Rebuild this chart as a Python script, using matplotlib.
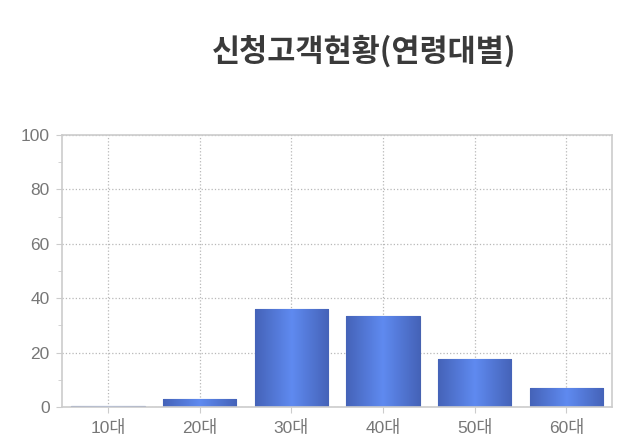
import matplotlib
matplotlib.use("Agg")
import matplotlib.pyplot as plt
import numpy as np
from matplotlib.ticker import MultipleLocator

plt.rcParams['font.family'] = ['Liberation Sans', 'Noto Sans CJK KR', 'DejaVu Sans']

title = "신청고객현황(연령대별)"
categories = ["10대", "20대", "30대", "40대", "50대", "60대"]
values = [0.5, 3, 36, 33.5, 17.6, 7]

fig = plt.figure(figsize=(6.22, 4.44), dpi=100)
ax = fig.add_axes([0.0997, 0.0833, 0.8845, 0.6125])

x = np.arange(len(categories))
bars = ax.bar(x, values, width=0.8, color='#5275d6', edgecolor='#4662b0', linewidth=0.8, zorder=2)

# horizontal gradient on each bar: dark edges, light middle
grad = np.abs(np.linspace(-1, 1, 256))
grad = np.vstack([grad, grad])
cmap = matplotlib.colors.LinearSegmentedColormap.from_list("bar", ["#5f8af0", "#4563b8"])
for b in bars:
    x0, w, h = b.get_x(), b.get_width(), b.get_height()
    im = ax.imshow(grad, cmap=cmap, aspect='auto', extent=(x0, x0 + w, 0, h), zorder=2.5, interpolation='bilinear')
    im.set_clip_path(b)

ax.set_xlim(-0.5, len(categories) - 0.5)
ax.set_ylim(0, 100)
ax.set_xticks(x)
ax.set_xticklabels(categories)
ax.yaxis.set_major_locator(MultipleLocator(20))
ax.yaxis.set_minor_locator(MultipleLocator(10))

ax.grid(True, linestyle=':', color='#b8b8b8', linewidth=0.9, zorder=0)
ax.set_axisbelow(True)
for s in ax.spines.values():
    s.set_color('#cccccc')
    s.set_linewidth(1.2)

ax.tick_params(axis='both', colors='#cccccc', labelcolor='#777777', labelsize=12.5, length=4)
ax.tick_params(axis='y', which='minor', colors='#cccccc', length=3)
ax.tick_params(axis='y', pad=5)
ax.tick_params(axis='x', pad=5)

fig.text(0.585, 0.885, title, ha='center', va='center', fontsize=22, fontweight='bold',
         color='#3a3a3a', family=['Noto Sans CJK KR', 'DejaVu Sans'])

fig.savefig("out.png", dpi=100)
